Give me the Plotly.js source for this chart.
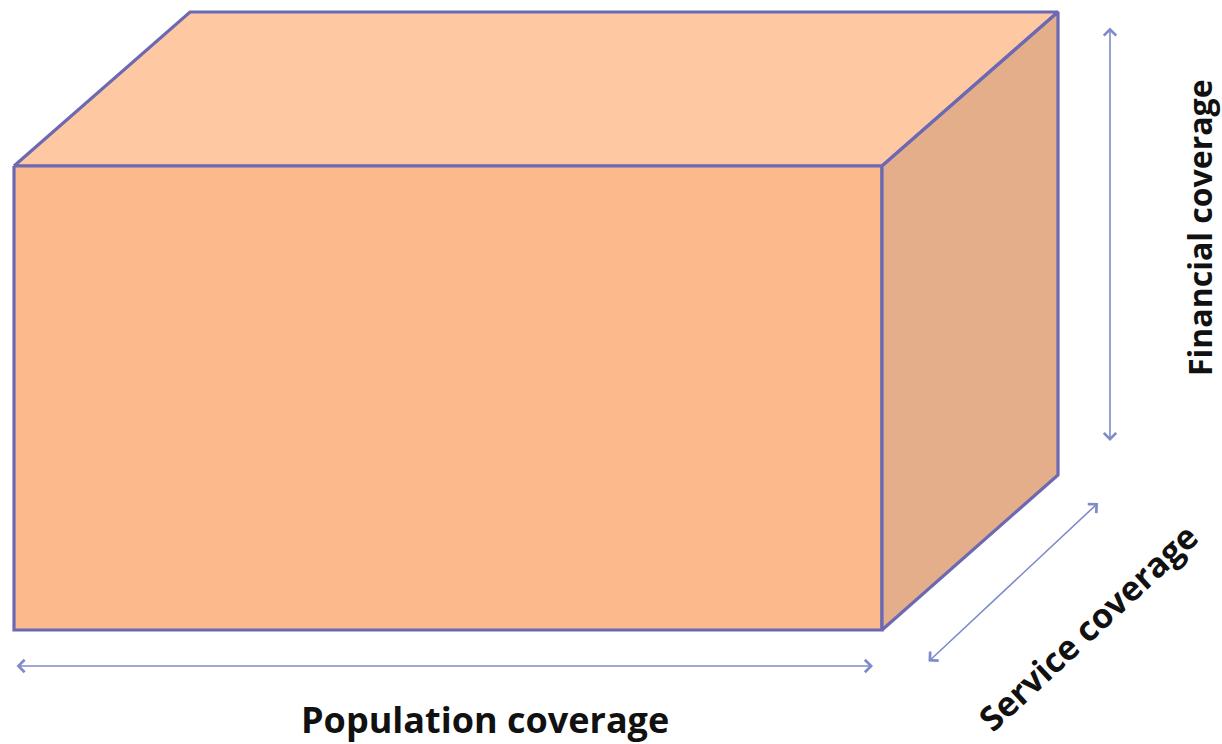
<!DOCTYPE html>
<html>
<head>
<meta charset="utf-8">
<script src="https://cdn.plot.ly/plotly-3.0.1.min.js"></script>
<style>
  html, body { margin: 0; padding: 0; background: #ffffff; }
  #chart { width: 1222px; height: 744px; }
</style>
</head>
<body>
<div id="chart"></div>
<script>
// ---- Diagram data (canvas units, y grows downward) ----
const faceNames = ['Top face', 'Front face', 'Side face'];
const topX   = [14, 190, 1058, 882];
const topY   = [166, 12, 12, 166];
const frontX = [14, 882, 882, 14];
const frontY = [166, 166, 630, 630];
const sideX  = [882, 1058, 1058, 882];
const sideY  = [166, 12, 475, 630];

const dimensionLabels = ['Population coverage', 'Service coverage', 'Financial coverage'];
const arrowFromX = [15, 927, 1110];
const arrowFromY = [666, 663, 26];
const arrowToX   = [873, 1098, 1110];
const arrowToY   = [666, 503, 441];
const labelX     = [485, 1088, 1199];
const labelY     = [719, 627, 228];
const labelAngle = [0, -43, -90];

// ---- Styles ----
const faceColors = ['#FEC8A2', '#FCBA8C', '#E5AE8A'];
const edgeColor = '#6C69B3';
const arrowColor = '#7F8BC9';

const faceXs = [topX, frontX, sideX];
const faceYs = [topY, frontY, sideY];

const traces = faceNames.map((name, i) => ({
  type: 'scatter',
  mode: 'lines',
  name: name,
  x: faceXs[i].concat([faceXs[i][0]]),
  y: faceYs[i].concat([faceYs[i][0]]),
  fill: 'toself',
  fillcolor: faceColors[i],
  line: { color: edgeColor, width: 3.2, shape: 'linear' },
  hoverinfo: 'skip'
}));

const labelSizes = [36, 34, 32];

const annotations = [];
dimensionLabels.forEach((lab, i) => {
  annotations.push({
    x: arrowToX[i], y: arrowToY[i], xref: 'x', yref: 'y',
    ax: arrowFromX[i], ay: arrowFromY[i], axref: 'x', ayref: 'y',
    text: '', showarrow: true,
    arrowhead: 4, startarrowhead: 4, arrowside: 'end+start',
    arrowsize: 1.5, startarrowsize: 1.5,
    arrowwidth: 1.6, arrowcolor: arrowColor,
    standoff: 0, startstandoff: 0
  });
  annotations.push({
    x: labelX[i], y: labelY[i], xref: 'x', yref: 'y',
    text: '<b>' + lab + '</b>', showarrow: false,
    textangle: labelAngle[i],
    font: { family: 'Open Sans, Liberation Sans, sans-serif', size: labelSizes[i], color: '#111111' },
    xanchor: 'center', yanchor: 'middle'
  });
});

const layout = {
  width: 1222, height: 744,
  margin: { l: 0, r: 0, t: 0, b: 0, pad: 0 },
  paper_bgcolor: '#ffffff', plot_bgcolor: '#ffffff',
  showlegend: false,
  xaxis: { range: [0, 1222], visible: false, fixedrange: true },
  yaxis: { range: [744, 0], visible: false, fixedrange: true },
  annotations: annotations
};

Plotly.newPlot('chart', traces, layout, { displayModeBar: false, staticPlot: true });
</script>
</body>
</html>
